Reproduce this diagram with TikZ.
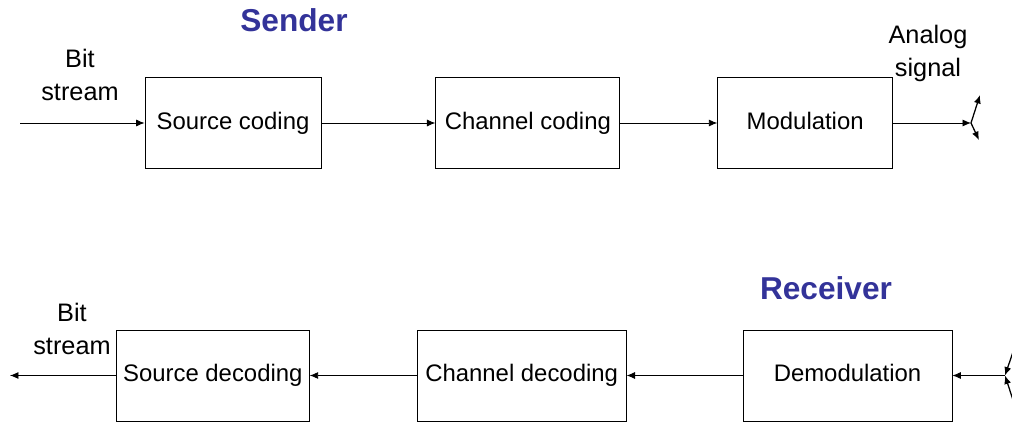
\documentclass[tikz,border=0pt]{standalone}
\usepackage{fontspec}
\setmainfont{Liberation Sans}
\usepackage{xcolor}
\usetikzlibrary{arrows.meta,positioning}

\definecolor{titleblue}{RGB}{51,51,153}

\begin{document}
\begin{tikzpicture}[>={Latex[length=6pt,width=5pt]}]
  \tikzstyle{every path}=[line width=0.6pt]
  \tikzstyle{block}=[draw,minimum height=2.275cm,inner sep=2pt,text height=12.5pt,text depth=3.5pt,font=\fontsize{17}{20}\selectfont]
  \tikzstyle{label}=[align=center,font=\fontsize{18}{23.5}\selectfont]
  \tikzstyle{title}=[text=titleblue,font=\fontsize{22.5}{26}\selectfont\bfseries]

  \useasboundingbox (0,0) rectangle (25.3,10.675);

  % sender chain
  \node [block,minimum width=4.4cm] (src) at (5.825,7.6) {Source coding};
  \node [block,minimum width=4.6cm,right=2.85cm of src] (chan) {Channel coding};
  \node [block,minimum width=4.375cm,right=2.425cm of chan] (mod) {Modulation};

  % receiver chain
  \node [block,minimum width=5.225cm] (demod) at (21.1875,1.2875) {Demodulation};
  \node [block,minimum width=5.225cm,left=2.9cm of demod] (chandec) {Channel decoding};
  \node [block,minimum width=4.825cm,left=2.675cm of chandec] (srcdec) {Source decoding};

  \node [title] (sender) at (7.35,10.175) {Sender};
  \node [title] (receiver) at (20.65,3.475) {Receiver};

  \node [label] (bitin) at (2.0,8.8125) {Bit\\stream};
  \node [label] (bitout) at (1.8,2.45) {Bit\\stream};
  \node [label] (analog) at (23.2,9.35) {Analog\\signal};

  % end points and antennas
  \coordinate (in) at (0.5,7.6);
  \coordinate (out) at (0.25,1.2875);
  \coordinate (tx) at (24.275,7.6);
  \coordinate (txa) at (24.5,8.3);
  \coordinate (txb) at (24.475,7.175);
  \coordinate (rx) at (25.125,1.2875);
  \coordinate (rxa) at (25.35,1.95);
  \coordinate (rxb) at (25.35,0.6);

  \draw [->] (in) -- (src);
  \draw [->] (src) -- (chan);
  \draw [->] (chan) -- (mod);
  \draw [->] (mod) -- (tx);
  \draw [->,line width=0.9pt] (tx) -- (txa);
  \draw [->,line width=0.9pt] (tx) -- (txb);

  \draw [->,line width=0.9pt] (rxa) -- (rx);
  \draw [->,line width=0.9pt] (rxb) -- (rx);
  \draw [->] (rx) -- (demod);
  \draw [->] (demod) -- (chandec);
  \draw [->] (chandec) -- (srcdec);
  \draw [->] (srcdec) -- (out);
\end{tikzpicture}
\end{document}
